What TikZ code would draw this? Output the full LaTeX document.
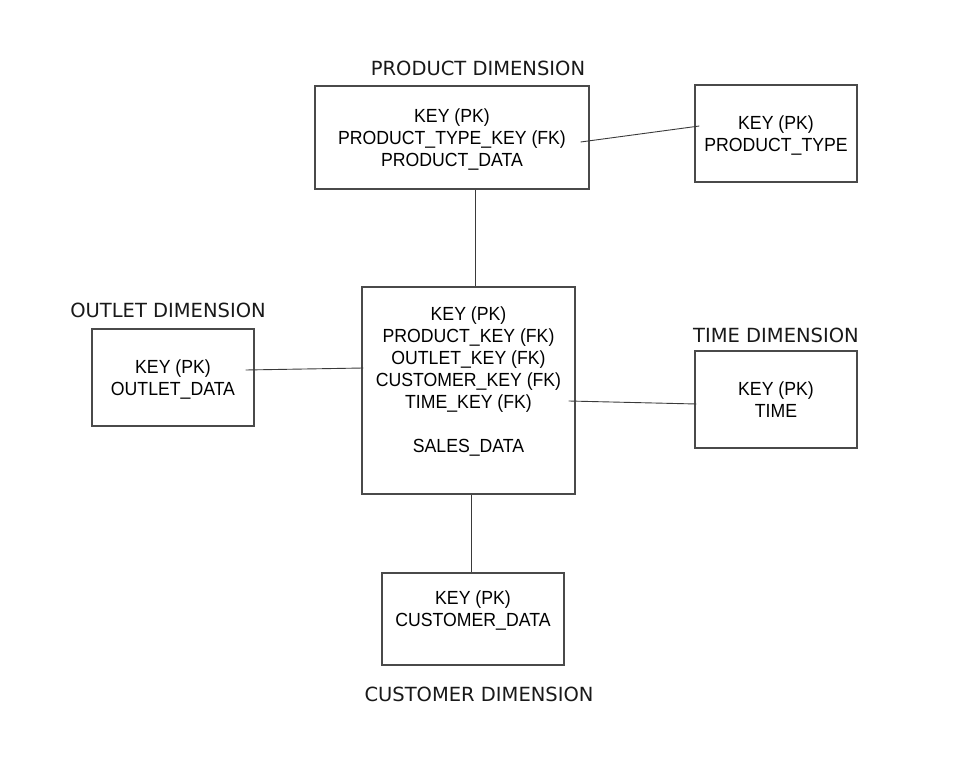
\documentclass[tikz,border=0pt]{standalone}
\usepackage{fontspec}
\setmainfont{Liberation Sans}[FakeStretch=0.93]
\newfontfamily\dimfont{DejaVu Sans}
\usepackage{tikz}
\usetikzlibrary{positioning}
\definecolor{boxline}{HTML}{4A4A4A}
\definecolor{linkline}{HTML}{3A3A3A}
\newcommand\keystrut{\rule{0pt}{21.4pt}}

\begin{document}
\begin{tikzpicture}[
x=1pt, y=-1pt,
    table/.style={
        rectangle,
        draw=boxline,
        line width=1.3pt,
        align=center,
        inner sep=0pt,
        text=black,
        font=\fontsize{19}{22}\selectfont
    },
    dimlabel/.style={
        font=\dimfont\fontsize{19.5}{20}\selectfont,
        text=black!90,
        inner sep=0pt
    },
    link/.style={draw=linkline, line width=0.9pt}
]
\useasboundingbox (0,0) rectangle (974,775);

\node[table, minimum width=274pt, minimum height=103pt] (product) at (452,137.5)
    {\keystrut KEY (PK)\\ PRODUCT\_TYPE\_KEY (FK)\\ PRODUCT\_DATA\strut};
\node[table, minimum width=162pt, minimum height=97pt] (producttype) at (776,133.5)
    {\keystrut KEY (PK)\\ PRODUCT\_TYPE\strut};
\node[table, minimum width=162pt, minimum height=97pt] (outlet) at (173,377.5)
    {\keystrut KEY (PK)\\ OUTLET\_DATA\strut};
\node[table, minimum width=213pt, minimum height=207pt] (sales) at (468.5,390.5)
    {\keystrut KEY (PK)\\ PRODUCT\_KEY (FK)\\ OUTLET\_KEY (FK)\\ CUSTOMER\_KEY (FK)\\
     TIME\_KEY (FK)\\[22pt] SALES\_DATA\\ \strut};
\node[table, minimum width=162pt, minimum height=97pt] (time) at (776,399.5)
    {\keystrut KEY (PK)\\ TIME\strut};
\node[table, minimum width=182pt, minimum height=92pt] (customer) at (473,619)
    {\keystrut KEY (PK)\\ CUSTOMER\_DATA\\ \strut};

% Dimension names
\node[dimlabel] (productname)  at (478,68)  {PRODUCT DIMENSION};
\node[dimlabel] (outletname)   at (168,310) {OUTLET DIMENSION};
\node[dimlabel] (timename)     at (776,335) {TIME DIMENSION};
\node[dimlabel] (customername) at (479,694) {CUSTOMER DIMENSION};

% Links between the fact table and the dimensions
\draw[link] ([xshift=23pt]product.south) -- ([xshift=6.5pt]sales.north);
\draw[link] ([xshift=2.5pt]sales.south) -- ([xshift=-2pt]customer.north);
\draw[link] ([xshift=-9pt,yshift=7.5pt]outlet.east) -- ([xshift=2pt,yshift=22.5pt]sales.west);
\draw[link] ([xshift=-7pt,yshift=-10.5pt]sales.east) -- ([xshift=2pt,yshift=-4.5pt]time.west);

% The snowflake link
\draw[link] ([xshift=-9pt,yshift=-4.5pt]product.east) -- ([xshift=5pt,yshift=7.5pt]producttype.west);
\end{tikzpicture}
\end{document}
